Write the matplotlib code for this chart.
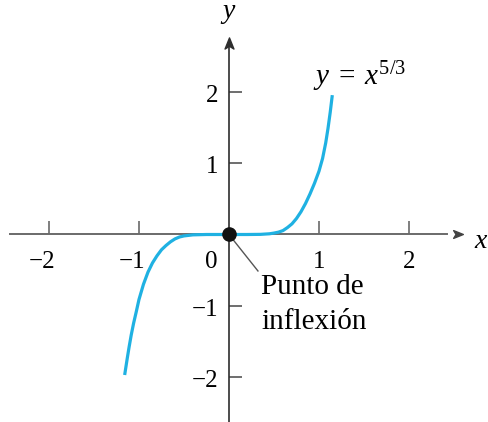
import matplotlib.pyplot as plt
from matplotlib.path import Path

# Curve points
curve_x = [-1.159, -1.13, -1.11, -1.086, -1.06, -1.03, -1.00, -0.95, -0.90, -0.85,
           -0.80, -0.75, -0.70, -0.65, -0.60, -0.55, -0.50, -0.40, -0.25, 0.0,
           0.20, 0.35, 0.45, 0.50, 0.55, 0.60, 0.65, 0.70, 0.75, 0.80,
           0.85, 0.90, 0.95, 1.00, 1.04, 1.075, 1.10, 1.125, 1.148]
curve_y = [-1.976, -1.74, -1.585, -1.413, -1.25, -1.086, -0.915, -0.700, -0.530, -0.400,
           -0.300, -0.215, -0.155, -0.103, -0.062, -0.035, -0.020, -0.005, 0.0, 0.0,
           0.0, 0.002, 0.010, 0.020, 0.033, 0.055, 0.098, 0.150, 0.225, 0.320,
           0.435, 0.570, 0.720, 0.890, 1.070, 1.290, 1.490, 1.720, 1.960]
x_ticks = [-2, -1, 1, 2]
y_ticks = [-2, -1, 1, 2]
inflection = (0, 0)

serif = 'Liberation Serif'
plt.rcParams['mathtext.fontset'] = 'custom'
plt.rcParams['mathtext.rm'] = serif
plt.rcParams['mathtext.it'] = serif + ':italic'

fig = plt.figure(figsize=(4.89, 4.22), dpi=100)
ax = fig.add_axes([0, 0, 1, 1])
ax.set_xlim(-2.544, 2.889)
ax.set_ylim(-2.637, 3.298)

# Axes through the origin
ax.spines[['top', 'right']].set_visible(False)
ax.spines['bottom'].set_position(('data', 0))
ax.spines['left'].set_position(('data', 0))
ax.spines['bottom'].set_bounds(-2.43, 2.42)
ax.spines['left'].set_bounds(-2.637, 2.70)
ax.spines['bottom'].set_color('#6a6a6a')
ax.spines['left'].set_color('#2e2e2e')
ax.spines['bottom'].set_linewidth(1.4)
ax.spines['left'].set_linewidth(1.2)
ax.set_xticks(x_ticks)
ax.set_yticks(y_ticks)
ax.tick_params(axis='x', direction='in', length=9.5, width=1.2, color='#6a6a6a',
               labelbottom=False)
ax.tick_params(axis='y', direction='in', length=9.5, width=1.2, color='#555555',
               labelleft=False)

# Arrow heads
head = Path([(-1, -0.8), (1, 0), (-1, 0.8), (-0.5, 0), (-1, -0.8)],
            [Path.MOVETO, Path.LINETO, Path.LINETO, Path.LINETO, Path.CLOSEPOLY])
head_up = Path([(-0.8, -1), (0, 1), (0.8, -1), (0, -0.5), (-0.8, -1)],
               [Path.MOVETO, Path.LINETO, Path.LINETO, Path.LINETO, Path.CLOSEPOLY])
ax.plot([2.55], [0], marker=head, markersize=7, color='#444444', clip_on=False)
ax.plot([0], [2.70], marker=head_up, markersize=8, color='#2e2e2e', clip_on=False)

# Tick labels
for v in x_ticks:
    txt = str(v).replace('-', '\u2212')
    if v < 0:
        ax.text(v + 0.075, -0.471, txt, ha='right', va='baseline', family=serif, fontsize=18)
    else:
        ax.text(v, -0.471, txt, ha='center', va='baseline', family=serif, fontsize=18)
for v in y_ticks:
    txt = str(v).replace('-', '\u2212')
    ax.text(-0.12, v - 0.14, txt, ha='right', va='baseline', family=serif, fontsize=18)
ax.text(-0.2, -0.471, '0', ha='center', va='baseline', family=serif, fontsize=18)

# Axis names
ax.text(2.79, -0.19, 'x', ha='center', va='baseline', family=serif, style='italic', fontsize=20)
ax.text(0.0, 3.05, 'y', ha='center', va='baseline', family=serif, style='italic', fontsize=20)

# Curve and inflection point
ax.plot(curve_x, curve_y, color='#1fb1e2', lw=2.3, solid_capstyle='butt',
        solid_joinstyle='round', zorder=3)
ax.plot([inflection[0]], [inflection[1]], 'o', color='#111111', markersize=9.5, zorder=4)
ax.plot([inflection[0], 0.322], [inflection[1], -0.513], color='#555555', lw=1.0, zorder=2)

ax.text(0.933, 2.10, r'$y\;=\;x^{5/3}$', ha='left', va='baseline', fontsize=21)
ax.text(0.356, -0.841, 'Punto de', ha='left', va='baseline', family=serif, fontsize=21)
ax.text(0.356, -1.333, 'inflexión', ha='left', va='baseline', family=serif, fontsize=21)

fig.savefig('out.png', dpi=100)
